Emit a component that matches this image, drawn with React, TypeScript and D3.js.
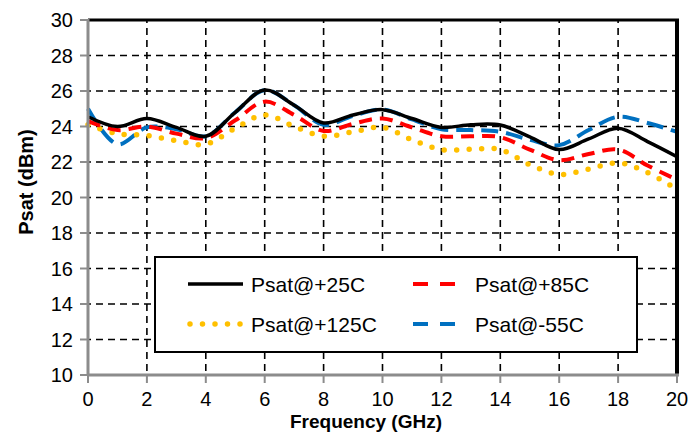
import React from "react";
import * as d3 from "d3";

const freq = [0, 1, 2, 3, 4, 5, 6, 7, 8, 9, 10, 11, 12, 13, 14, 15, 16, 17, 18, 19, 20];
const psat25 = [24.55, 24.0, 24.45, 23.95, 23.45, 24.8, 26.05, 25.2, 24.2, 24.65, 24.95, 24.45, 23.95, 24.1, 24.08, 23.42, 22.7, 23.3, 23.9, 23.15, 22.3];
const psat85 = [24.3, 23.8, 24.0, 23.6, 23.35, 24.35, 25.4, 24.65, 23.75, 24.15, 24.45, 23.95, 23.45, 23.45, 23.4, 22.7, 22.1, 22.45, 22.7, 21.8, 21.0];
const psat125 = [24.1, 23.6, 23.5, 23.2, 23.0, 23.9, 24.65, 24.0, 23.45, 23.7, 23.95, 23.25, 22.7, 22.72, 22.7, 21.85, 21.3, 21.6, 21.95, 21.4, 20.45];
const psatM55 = [25.0, 23.0, 23.95, 23.85, 23.45, 24.8, 26.05, 25.2, 24.1, 24.6, 24.95, 24.4, 23.85, 23.8, 23.7, 23.25, 22.95, 23.8, 24.55, 24.2, 23.7];

const xTicks = [0, 2, 4, 6, 8, 10, 12, 14, 16, 18, 20];
const yTicks = [10, 12, 14, 16, 18, 20, 22, 24, 26, 28, 30];
const seriesNames = ["Psat@+25C", "Psat@+85C", "Psat@+125C", "Psat@-55C"];

const W = 688;
const H = 432;
const L = 88, R = 677, T = 20, B = 375;

export default function App() {
  const x = d3.scaleLinear().domain([0, 20]).range([L, R]);
  const y = d3.scaleLinear().domain([10, 30]).range([B, T]);
  const line = (vals: number[]) =>
    d3
      .line<number>()
      .x((_, i) => x(freq[i]))
      .y((v) => y(v))
      .curve(d3.curveCatmullRom.alpha(0.5))(vals) as string;

  const font = "'Liberation Sans', Arial, sans-serif";
  const series = [
    { name: seriesNames[0], vals: psat25, color: "#000000", dash: "", width: 3.5, cap: "butt" },
    { name: seriesNames[1], vals: psat85, color: "#FF0000", dash: "13 8", width: 4, cap: "butt" },
    { name: seriesNames[2], vals: psat125, color: "#FFC000", dash: "0 12.5", width: 5.5, cap: "round" },
    { name: seriesNames[3], vals: psatM55, color: "#0070C0", dash: "17 8", width: 4, cap: "butt" },
  ];
  const drawOrder = [3, 2, 1, 0];

  const legendItems = [
    { s: series[0], lx: 188, tx: 251, ly: 284 },
    { s: series[1], lx: 413, tx: 475, ly: 284 },
    { s: series[2], lx: 190, tx: 251, ly: 324 },
    { s: series[3], lx: 413, tx: 475, ly: 324 },
  ];

  return (
    <svg width={W} height={H} style={{ position: "absolute", left: 0, top: 0 }}>
      <rect x={0} y={0} width={W} height={H} fill="#fff" />
      {yTicks.filter((t) => t > 10 && t < 30).map((t) => (
        <line key={"gy" + t} x1={L} x2={R} y1={y(t)} y2={y(t)} stroke="#000" strokeWidth={1.6} strokeDasharray="7 5" strokeDashoffset={-8} />
      ))}
      {xTicks.filter((t) => t > 0 && t < 20).map((t) => (
        <line key={"gx" + t} x1={x(t)} x2={x(t)} y1={T} y2={B} stroke="#000" strokeWidth={1.6} strokeDasharray="7 5" strokeDashoffset={-8} />
      ))}
      {drawOrder.map((i) => {
        const s = series[i];
        return (
          <path key={s.name} d={line(s.vals)} fill="none" stroke={s.color} strokeWidth={s.width}
            strokeDasharray={s.dash || undefined} strokeLinecap={s.cap as any} strokeLinejoin="round" />
        );
      })}
      <line x1={L} x2={R + 2} y1={T} y2={T} stroke="#000" strokeWidth={3} />
      <line x1={R} x2={R} y1={T} y2={B} stroke="#000" strokeWidth={4} />
      <line x1={L} x2={L} y1={T - 1} y2={B} stroke="#8c8c8c" strokeWidth={3} />
      <line x1={L - 1} x2={R + 2} y1={B} y2={B} stroke="#8c8c8c" strokeWidth={3} />
      {yTicks.map((t) => (
        <g key={"ty" + t}>
          <line x1={L - 8} x2={L} y1={y(t)} y2={y(t)} stroke="#8c8c8c" strokeWidth={2} />
          <text x={73} y={y(t)} dy="0.36em" textAnchor="end" fontFamily={font} fontSize={20} fill="#000">{t}</text>
        </g>
      ))}
      {xTicks.map((t) => (
        <g key={"tx" + t}>
          <line x1={x(t)} x2={x(t)} y1={B} y2={B + 8} stroke="#8c8c8c" strokeWidth={2} />
          <text x={x(t)} y={406} textAnchor="middle" fontFamily={font} fontSize={20} fill="#000">{t}</text>
        </g>
      ))}
      <text x={366} y={428} textAnchor="middle" fontFamily={font} fontSize={19} fontWeight="bold" fill="#000">Frequency (GHz)</text>
      <text transform="translate(33,182) rotate(-90)" textAnchor="middle" fontFamily={font} fontSize={20} fontWeight="bold" fill="#000">Psat (dBm)</text>
      <rect x={155} y={257} width={482} height={95} fill="#fff" stroke="#000" strokeWidth={2} />
      {legendItems.map(({ s, lx, tx, ly }) => (
        <g key={"lg" + s.name}>
          {s.cap === "round" ? (
            <line x1={lx} x2={lx + 52} y1={ly} y2={ly} stroke={s.color} strokeWidth={s.width} strokeDasharray="0 12.5" strokeLinecap="round" />
          ) : s.dash ? (
            <line x1={lx} x2={lx + 42} y1={ly} y2={ly} stroke={s.color} strokeWidth={s.width} strokeDasharray="15 12" />
          ) : (
            <line x1={lx} x2={lx + 55} y1={ly} y2={ly} stroke={s.color} strokeWidth={s.width} />
          )}
          <text x={tx} y={ly + 7.5} fontFamily={font} fontSize={21} fill="#000">{s.name}</text>
        </g>
      ))}
    </svg>
  );
}
